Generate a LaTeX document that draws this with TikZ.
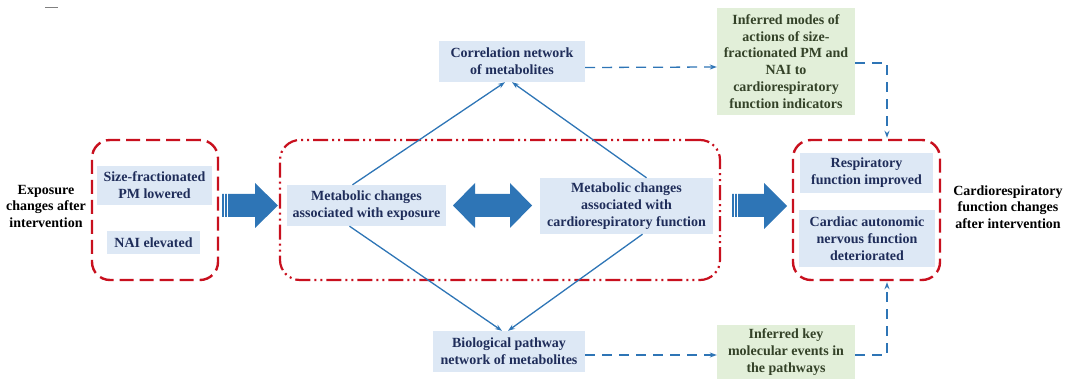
\documentclass[tikz,border=0pt]{standalone}
\usepackage{fontspec}
\setmainfont{Liberation Serif}
\usetikzlibrary{calc,arrows.meta}
\definecolor{boxblue}{RGB}{221,232,245}
\definecolor{boxgreen}{RGB}{226,239,217}
\definecolor{txtblue}{RGB}{31,45,90}
\definecolor{txtgreen}{RGB}{52,66,40}
\definecolor{linkblue}{RGB}{46,117,182}
\definecolor{redframe}{RGB}{200,16,30}
\tikzset{
  bluebox/.style={fill=boxblue, text=txtblue, inner sep=0pt, align=center, font=\bfseries\fontsize{14}{16.8}\selectfont},
  greenbox/.style={fill=boxgreen, text=txtgreen, inner sep=0pt, align=center, font=\bfseries\fontsize{14}{16.8}\selectfont},
  sidelabel/.style={text=black, inner sep=0pt, align=center, font=\bfseries\fontsize{14}{16.5}\selectfont},
  dashframe/.style={draw=redframe, line width=2.4pt, rounded corners=18pt, dash pattern=on 14pt off 6pt, inner sep=0pt},
  dotframe/.style={draw=redframe, line width=2.2pt, rounded corners=20pt, dash pattern=on 15pt off 4pt on 2pt off 4pt on 2pt off 4pt, inner sep=0pt},
  solidlink/.style={draw=linkblue, line width=1.3pt, -{Stealth[length=7pt,width=5pt]}},
  dashlink/.style={draw=linkblue, line width=1.3pt, dash pattern=on 10pt off 7pt, -{Stealth[length=7pt,width=5pt]}},
}
\begin{document}
\begin{tikzpicture}[x=1pt,y=-1pt]
\useasboundingbox (0,0) rectangle (1071,379);
\draw[gray, line width=1pt] (45,8) -- (58,8);

% frames
\node[dashframe, minimum width=126pt, minimum height=140pt] (lb) at (155,210) {};
\node[dotframe, minimum width=440pt, minimum height=140pt] (mb) at (500,210) {};
\node[dashframe, minimum width=147pt, minimum height=140pt] (rb) at (866.5,210) {};

% side labels
\node[sidelabel] (lin) at (46,206) {Exposure\\changes after\\intervention};
\node[sidelabel] (rout) at (1008,207) {Cardiorespiratory\\function changes\\after intervention};

% left box contents
\node[bluebox, minimum width=115pt, minimum height=39pt] (s1) at (154.5,185.5) {Size-fractionated\\PM lowered};
\node[bluebox, minimum width=93pt, minimum height=23pt] (s2) at (153.5,242.5) {NAI elevated};

% middle box contents
\node[bluebox, minimum width=159pt, minimum height=41pt] (me) at (366.5,205.5) {Metabolic changes\\associated with exposure};
\node[bluebox, minimum width=173pt, minimum height=56pt] (mc) at (626.5,206) {Metabolic changes\\associated with\\cardiorespiratory function};

% networks
\node[bluebox, minimum width=146pt, minimum height=41pt] (corr) at (512,61.5) {Correlation network\\of metabolites};
\node[bluebox, minimum width=152pt, minimum height=41pt] (bio) at (509,351.5) {Biological pathway\\network of metabolites};

% green inference boxes
\node[greenbox, minimum width=138pt, minimum height=107pt] (g1) at (786,61.5) {Inferred modes of\\actions of size-\\fractionated PM and\\NAI to\\cardiorespiratory\\function indicators};
\node[greenbox, minimum width=138pt, minimum height=54pt] (g2) at (786,352) {Inferred key\\molecular events in\\the pathways};

% right box contents
\node[bluebox, minimum width=133pt, minimum height=40pt] (r1) at (866.5,173) {Respiratory\\function improved};
\node[bluebox, minimum width=136pt, minimum height=57pt] (r2) at (867,238.5) {Cardiac autonomic\\nervous function\\deteriorated};

% fat arrow 1
\fill[linkblue] (222,194) -- (255,194) -- (255,183) -- (278,205.5) -- (255,228) -- (255,217) -- (222,217) -- cycle;
\draw[white, line width=0.8pt] (224.6,193) -- (224.6,218) (227.6,193) -- (227.6,218);
% fat arrow 2
\fill[linkblue] (732,194) -- (764,194) -- (764,183) -- (787,206) -- (764,229) -- (764,217) -- (732,217) -- cycle;
\draw[white, line width=0.8pt] (734.6,193) -- (734.6,218) (737.6,193) -- (737.6,218);
% double arrow
\fill[linkblue] (453,205.5) -- (475,183) -- (475,194) -- (510,194) -- (510,183) -- (532,205.5) -- (510,228) -- (510,217) -- (475,217) -- (475,228) -- cycle;

% solid links
\draw[solidlink] ($(me.north)+(-14,0)$) -- ($(corr.south)+(-7,0)$);
\draw[solidlink] ($(mc.north)+(20,0)$) -- ($(corr.south)+(0,0)$);
\draw[solidlink] ($(me.south)+(-17,0)$) -- ($(bio.north)+(-7,0)$);
\draw[solidlink] ($(mc.south)+(16,0)$) -- ($(bio.north)+(-1,0)$);

% dashed links
\draw[dashlink] ($(corr.east)+(0,6)$) -- ($(g1.west)+(0,5.5)$);
\draw[dashlink] ($(bio.east)+(0,3.5)$) -- ($(g2.west)+(0,3)$);
\draw[dashlink] ($(g1.east)+(0,1.5)$) -| ($(rb.north)+(20.5,-1)$);
\draw[dashlink] ($(g2.east)+(0,3)$) -| ($(rb.south)+(20.5,1)$);
\end{tikzpicture}
\end{document}
